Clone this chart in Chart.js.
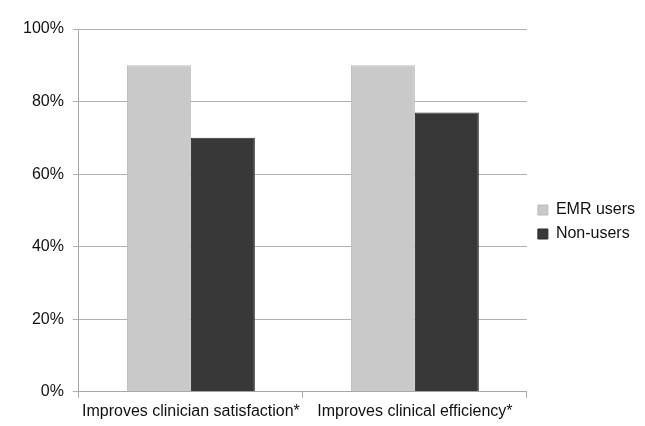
<!DOCTYPE html>
<html>
<head>
<meta charset="utf-8">
<script src="https://cdn.jsdelivr.net/npm/chart.js@4.4.1/dist/chart.umd.min.js"></script>
<style>
html,body{margin:0;padding:0;background:#fff;}
canvas{display:block;}
</style>
</head>
<body>
<canvas id="c" width="645" height="426"></canvas>
<script>
const categories = ["Improves clinician satisfaction*", "Improves clinical efficiency*"];
const emrUsers = [0.90, 0.90];
const nonUsers = [0.70, 0.77];
const yTicks = [0, 0.2, 0.4, 0.6, 0.8, 1.0];

const FONT = "'Liberation Sans', Arial, sans-serif";

const legendNudge = {
  id: 'legendNudge',
  afterLayout(chart) {
    const lg = chart.legend;
    if (lg) { lg.left += 3; lg.right += 3; lg.top -= 5; lg.bottom -= 5; }
  }
};

new Chart(document.getElementById('c'), {
  type: 'bar',
  data: {
    labels: categories,
    datasets: [
      { label: 'EMR users', data: emrUsers, backgroundColor: '#c9c9c9', borderColor: '#bdbdbd', borderWidth: 1 },
      { label: 'Non-users', data: nonUsers, backgroundColor: '#383838', borderColor: '#2c2c2c', borderWidth: 1 }
    ]
  },
  plugins: [legendNudge],
  options: {
    responsive: false,
    animation: false,
    devicePixelRatio: 1,
    layout: { padding: { left: 14, right: 3, top: 29, bottom: 1 } },
    datasets: { bar: { categoryPercentage: 0.571, barPercentage: 1.0 } },
    plugins: {
      tooltip: { enabled: false },
      legend: {
        position: 'right',
        labels: {
          font: { family: FONT, size: 16 },
          color: '#111',
          boxWidth: 10,
          boxHeight: 10,
          padding: 8
        }
      }
    },
    scales: {
      x: {
        grid: { display: true, drawOnChartArea: false, color: '#a8a8a8', tickLength: 6, offset: true },
        border: { color: '#a8a8a8', width: 1 },
        ticks: { font: { family: FONT, size: 16 }, color: '#111', maxRotation: 0, autoSkip: false, padding: 4 }
      },
      y: {
        min: 0, max: 1,
        afterBuildTicks: (axis) => { axis.ticks = yTicks.map(v => ({ value: v })); },
        grid: { color: '#b0b0b0', tickLength: 6 },
        border: { color: '#a8a8a8', width: 1 },
        ticks: {
          font: { family: FONT, size: 16 }, color: '#111', padding: 9,
          callback: (v) => Math.round(v * 100) + '%'
        }
      }
    }
  }
});
</script>
</body>
</html>
